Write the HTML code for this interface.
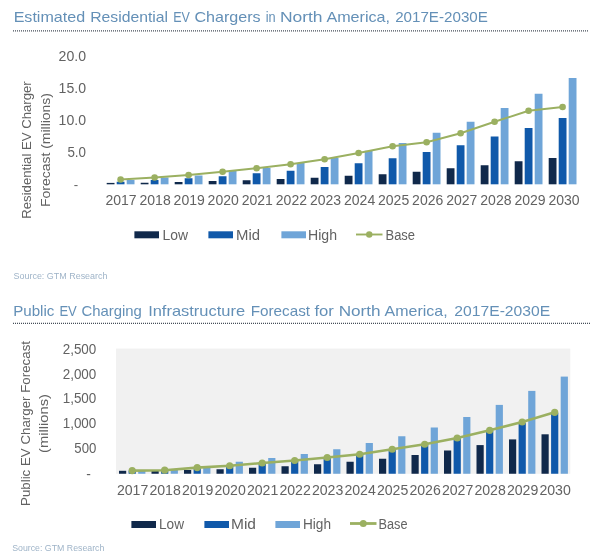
<!DOCTYPE html><html><head><meta charset="utf-8"><title>EV Charger Forecasts</title>
<style>html,body{margin:0;padding:0;background:#fff}svg{display:block}text{font-family:"Liberation Sans",sans-serif}</style></head><body>
<svg width="600" height="560" viewBox="0 0 600 560">
<rect width="600" height="560" fill="#fff"/>
<text y="21.6" font-size="14.5" fill="#6490b7"><tspan x="13.65" textLength="71.45" lengthAdjust="spacingAndGlyphs">Estimated</tspan> <tspan x="90.15" textLength="77.95" lengthAdjust="spacingAndGlyphs">Residential</tspan> <tspan x="173.15" textLength="16.70" lengthAdjust="spacingAndGlyphs">EV</tspan> <tspan x="194.40" textLength="66.20" lengthAdjust="spacingAndGlyphs">Chargers</tspan> <tspan x="265.65" textLength="9.95" lengthAdjust="spacingAndGlyphs">in</tspan> <tspan x="279.90" textLength="42.70" lengthAdjust="spacingAndGlyphs">North</tspan> <tspan x="326.40" textLength="63.70" lengthAdjust="spacingAndGlyphs">America,</tspan> <tspan x="395.15" textLength="92.75" lengthAdjust="spacingAndGlyphs">2017E-2030E</tspan></text>
<line x1="13" y1="30.8" x2="589" y2="30.8" stroke="#454d58" stroke-width="1.2" stroke-dasharray="1 1"/>
<text y="315.6" font-size="14.5" fill="#6490b7"><tspan x="13.15" textLength="41.20" lengthAdjust="spacingAndGlyphs">Public</tspan> <tspan x="59.40" textLength="17.45" lengthAdjust="spacingAndGlyphs">EV</tspan> <tspan x="81.40" textLength="60.45" lengthAdjust="spacingAndGlyphs">Charging</tspan> <tspan x="148.15" textLength="96.95" lengthAdjust="spacingAndGlyphs">Infrastructure</tspan> <tspan x="250.65" textLength="59.45" lengthAdjust="spacingAndGlyphs">Forecast</tspan> <tspan x="314.40" textLength="19.45" lengthAdjust="spacingAndGlyphs">for</tspan> <tspan x="338.65" textLength="41.95" lengthAdjust="spacingAndGlyphs">North</tspan> <tspan x="384.60" textLength="63.00" lengthAdjust="spacingAndGlyphs">America,</tspan> <tspan x="454.30" textLength="95.90" lengthAdjust="spacingAndGlyphs">2017E-2030E</tspan></text>
<line x1="13" y1="323.3" x2="590" y2="323.3" stroke="#454d58" stroke-width="1.2" stroke-dasharray="1 1"/>
<text x="13.5" y="278.8" font-size="9.5" fill="#9fb4c8" text-anchor="start" textLength="94" lengthAdjust="spacingAndGlyphs" >Source: GTM Research</text>
<text x="12.2" y="550.6" font-size="9.5" fill="#9fb4c8" text-anchor="start" textLength="92.2" lengthAdjust="spacingAndGlyphs" >Source: GTM Research</text>
<text x="86" y="61.4" font-size="13.8" fill="#626262" text-anchor="end" textLength="27.4" lengthAdjust="spacingAndGlyphs" >20.0</text>
<text x="86" y="93.2" font-size="13.8" fill="#626262" text-anchor="end" textLength="27.4" lengthAdjust="spacingAndGlyphs" >15.0</text>
<text x="86" y="125.2" font-size="13.8" fill="#626262" text-anchor="end" textLength="27.4" lengthAdjust="spacingAndGlyphs" >10.0</text>
<text x="86" y="157.4" font-size="13.8" fill="#626262" text-anchor="end" textLength="18.6" lengthAdjust="spacingAndGlyphs" >5.0</text>
<text x="76" y="189" font-size="13.2" fill="#626262" text-anchor="middle" >-</text>
<text transform="translate(31,150) rotate(-90)" font-size="13.2" fill="#626262" text-anchor="middle" textLength="137.5" lengthAdjust="spacingAndGlyphs">Residential EV Charger</text>
<text transform="translate(49.8,150) rotate(-90)" font-size="13.2" fill="#626262" text-anchor="middle" textLength="114" lengthAdjust="spacingAndGlyphs">Forecast (millions)</text>
<rect x="106.70" y="182.90" width="7.8" height="1.40" fill="#10294b"/>
<rect x="116.70" y="181.75" width="7.8" height="2.55" fill="#1059aa"/>
<rect x="126.70" y="180.00" width="7.8" height="4.30" fill="#6fa5d8"/>
<text x="121.0" y="204.6" font-size="14.5" fill="#626262" text-anchor="middle" textLength="31.2" lengthAdjust="spacingAndGlyphs" >2017</text>
<rect x="140.70" y="182.75" width="7.8" height="1.55" fill="#10294b"/>
<rect x="150.70" y="180.00" width="7.8" height="4.30" fill="#1059aa"/>
<rect x="160.70" y="177.50" width="7.8" height="6.80" fill="#6fa5d8"/>
<text x="155.1" y="204.6" font-size="14.5" fill="#626262" text-anchor="middle" textLength="31.2" lengthAdjust="spacingAndGlyphs" >2018</text>
<rect x="174.70" y="182.00" width="7.8" height="2.30" fill="#10294b"/>
<rect x="184.70" y="178.25" width="7.8" height="6.05" fill="#1059aa"/>
<rect x="194.70" y="175.50" width="7.8" height="8.80" fill="#6fa5d8"/>
<text x="189.2" y="204.6" font-size="14.5" fill="#626262" text-anchor="middle" textLength="31.2" lengthAdjust="spacingAndGlyphs" >2019</text>
<rect x="208.70" y="181.00" width="7.8" height="3.30" fill="#10294b"/>
<rect x="218.70" y="176.25" width="7.8" height="8.05" fill="#1059aa"/>
<rect x="228.70" y="170.75" width="7.8" height="13.55" fill="#6fa5d8"/>
<text x="223.2" y="204.6" font-size="14.5" fill="#626262" text-anchor="middle" textLength="31.2" lengthAdjust="spacingAndGlyphs" >2020</text>
<rect x="242.70" y="180.25" width="7.8" height="4.05" fill="#10294b"/>
<rect x="252.70" y="173.25" width="7.8" height="11.05" fill="#1059aa"/>
<rect x="262.70" y="168.00" width="7.8" height="16.30" fill="#6fa5d8"/>
<text x="257.3" y="204.6" font-size="14.5" fill="#626262" text-anchor="middle" textLength="31.2" lengthAdjust="spacingAndGlyphs" >2021</text>
<rect x="276.70" y="179.00" width="7.8" height="5.30" fill="#10294b"/>
<rect x="286.70" y="170.75" width="7.8" height="13.55" fill="#1059aa"/>
<rect x="296.70" y="163.00" width="7.8" height="21.30" fill="#6fa5d8"/>
<text x="291.4" y="204.6" font-size="14.5" fill="#626262" text-anchor="middle" textLength="31.2" lengthAdjust="spacingAndGlyphs" >2022</text>
<rect x="310.70" y="177.75" width="7.8" height="6.55" fill="#10294b"/>
<rect x="320.70" y="167.00" width="7.8" height="17.30" fill="#1059aa"/>
<rect x="330.70" y="158.00" width="7.8" height="26.30" fill="#6fa5d8"/>
<text x="325.5" y="204.6" font-size="14.5" fill="#626262" text-anchor="middle" textLength="31.2" lengthAdjust="spacingAndGlyphs" >2023</text>
<rect x="344.70" y="175.75" width="7.8" height="8.55" fill="#10294b"/>
<rect x="354.70" y="163.25" width="7.8" height="21.05" fill="#1059aa"/>
<rect x="364.70" y="150.75" width="7.8" height="33.55" fill="#6fa5d8"/>
<text x="359.6" y="204.6" font-size="14.5" fill="#626262" text-anchor="middle" textLength="31.2" lengthAdjust="spacingAndGlyphs" >2024</text>
<rect x="378.70" y="174.25" width="7.8" height="10.05" fill="#10294b"/>
<rect x="388.70" y="158.25" width="7.8" height="26.05" fill="#1059aa"/>
<rect x="398.70" y="143.00" width="7.8" height="41.30" fill="#6fa5d8"/>
<text x="393.6" y="204.6" font-size="14.5" fill="#626262" text-anchor="middle" textLength="31.2" lengthAdjust="spacingAndGlyphs" >2025</text>
<rect x="412.70" y="171.75" width="7.8" height="12.55" fill="#10294b"/>
<rect x="422.70" y="152.00" width="7.8" height="32.30" fill="#1059aa"/>
<rect x="432.70" y="132.75" width="7.8" height="51.55" fill="#6fa5d8"/>
<text x="427.7" y="204.6" font-size="14.5" fill="#626262" text-anchor="middle" textLength="31.2" lengthAdjust="spacingAndGlyphs" >2026</text>
<rect x="446.70" y="168.25" width="7.8" height="16.05" fill="#10294b"/>
<rect x="456.70" y="145.25" width="7.8" height="39.05" fill="#1059aa"/>
<rect x="466.70" y="121.75" width="7.8" height="62.55" fill="#6fa5d8"/>
<text x="461.8" y="204.6" font-size="14.5" fill="#626262" text-anchor="middle" textLength="31.2" lengthAdjust="spacingAndGlyphs" >2027</text>
<rect x="480.70" y="165.25" width="7.8" height="19.05" fill="#10294b"/>
<rect x="490.70" y="136.50" width="7.8" height="47.80" fill="#1059aa"/>
<rect x="500.70" y="108.00" width="7.8" height="76.30" fill="#6fa5d8"/>
<text x="495.9" y="204.6" font-size="14.5" fill="#626262" text-anchor="middle" textLength="31.2" lengthAdjust="spacingAndGlyphs" >2028</text>
<rect x="514.70" y="161.25" width="7.8" height="23.05" fill="#10294b"/>
<rect x="524.70" y="128.00" width="7.8" height="56.30" fill="#1059aa"/>
<rect x="534.70" y="93.75" width="7.8" height="90.55" fill="#6fa5d8"/>
<text x="530.0" y="204.6" font-size="14.5" fill="#626262" text-anchor="middle" textLength="31.2" lengthAdjust="spacingAndGlyphs" >2029</text>
<rect x="548.70" y="158.00" width="7.8" height="26.30" fill="#10294b"/>
<rect x="558.70" y="118.00" width="7.8" height="66.30" fill="#1059aa"/>
<rect x="568.70" y="78.00" width="7.8" height="106.30" fill="#6fa5d8"/>
<text x="564.0" y="204.6" font-size="14.5" fill="#626262" text-anchor="middle" textLength="31.2" lengthAdjust="spacingAndGlyphs" >2030</text>
<polyline points="120.6,179.50 154.6,177.50 188.6,175.00 222.6,171.75 256.6,168.25 290.6,164.25 324.6,159.25 358.6,153.00 392.6,146.25 426.6,142.25 460.6,133.25 494.6,121.75 528.6,110.75 562.6,107.00" fill="none" stroke="#9bb061" stroke-width="1.9" stroke-linejoin="round"/>
<circle cx="120.6" cy="179.50" r="3.3" fill="#9bb061"/>
<circle cx="154.6" cy="177.50" r="3.3" fill="#9bb061"/>
<circle cx="188.6" cy="175.00" r="3.3" fill="#9bb061"/>
<circle cx="222.6" cy="171.75" r="3.3" fill="#9bb061"/>
<circle cx="256.6" cy="168.25" r="3.3" fill="#9bb061"/>
<circle cx="290.6" cy="164.25" r="3.3" fill="#9bb061"/>
<circle cx="324.6" cy="159.25" r="3.3" fill="#9bb061"/>
<circle cx="358.6" cy="153.00" r="3.3" fill="#9bb061"/>
<circle cx="392.6" cy="146.25" r="3.3" fill="#9bb061"/>
<circle cx="426.6" cy="142.25" r="3.3" fill="#9bb061"/>
<circle cx="460.6" cy="133.25" r="3.3" fill="#9bb061"/>
<circle cx="494.6" cy="121.75" r="3.3" fill="#9bb061"/>
<circle cx="528.6" cy="110.75" r="3.3" fill="#9bb061"/>
<circle cx="562.6" cy="107.00" r="3.3" fill="#9bb061"/>
<rect x="134.4" y="231.3" width="24.6" height="7" fill="#10294b"/>
<rect x="208.4" y="231.3" width="24.6" height="7" fill="#1059aa"/>
<rect x="281.4" y="231.3" width="24.6" height="7" fill="#6fa5d8"/>
<line x1="356" y1="234.5" x2="382.5" y2="234.5" stroke="#9bb061" stroke-width="1.9"/>
<circle cx="369.25" cy="234.5" r="3.2" fill="#9bb061"/>
<text x="162.5" y="239.8" font-size="14" fill="#626262" text-anchor="start" textLength="25.5" lengthAdjust="spacingAndGlyphs" >Low</text>
<text x="236" y="239.8" font-size="14" fill="#626262" text-anchor="start" textLength="24" lengthAdjust="spacingAndGlyphs" >Mid</text>
<text x="308" y="239.8" font-size="14" fill="#626262" text-anchor="start" textLength="29" lengthAdjust="spacingAndGlyphs" >High</text>
<text x="385.5" y="239.8" font-size="14" fill="#626262" text-anchor="start" textLength="29.5" lengthAdjust="spacingAndGlyphs" >Base</text>
<rect x="116" y="348.6" width="454.3" height="125.2" fill="#f1f1f1"/>
<text x="96.3" y="354.09999999999997" font-size="13.8" fill="#626262" text-anchor="end" textLength="33.6" lengthAdjust="spacingAndGlyphs" >2,500</text>
<text x="96.3" y="378.59999999999997" font-size="13.8" fill="#626262" text-anchor="end" textLength="33.6" lengthAdjust="spacingAndGlyphs" >2,000</text>
<text x="96.3" y="403.4" font-size="13.8" fill="#626262" text-anchor="end" textLength="33.6" lengthAdjust="spacingAndGlyphs" >1,500</text>
<text x="96.3" y="428.29999999999995" font-size="13.8" fill="#626262" text-anchor="end" textLength="33.6" lengthAdjust="spacingAndGlyphs" >1,000</text>
<text x="96.3" y="453.2" font-size="13.8" fill="#626262" text-anchor="end" textLength="22" lengthAdjust="spacingAndGlyphs" >500</text>
<text x="88.5" y="479.3" font-size="13.8" fill="#626262" text-anchor="middle" >-</text>
<text transform="translate(30,423.5) rotate(-90)" font-size="13.2" fill="#626262" text-anchor="middle" textLength="165" lengthAdjust="spacingAndGlyphs">Public EV Charger Forecast</text>
<text transform="translate(48.3,423.5) rotate(-90)" font-size="13.2" fill="#626262" text-anchor="middle" textLength="59" lengthAdjust="spacingAndGlyphs">(millions)</text>
<rect x="119.00" y="470.80" width="7.2" height="2.95" fill="#10294b"/>
<rect x="128.60" y="470.60" width="7.2" height="3.15" fill="#1059aa"/>
<rect x="138.20" y="470.00" width="7.2" height="3.75" fill="#6fa5d8"/>
<text x="132.6" y="494.6" font-size="14.8" fill="#626262" text-anchor="middle" textLength="31.4" lengthAdjust="spacingAndGlyphs" >2017</text>
<rect x="151.50" y="470.40" width="7.2" height="3.35" fill="#10294b"/>
<rect x="161.10" y="469.60" width="7.2" height="4.15" fill="#1059aa"/>
<rect x="170.70" y="469.40" width="7.2" height="4.35" fill="#6fa5d8"/>
<text x="165.1" y="494.6" font-size="14.8" fill="#626262" text-anchor="middle" textLength="31.4" lengthAdjust="spacingAndGlyphs" >2018</text>
<rect x="184.00" y="470.00" width="7.2" height="3.75" fill="#10294b"/>
<rect x="193.60" y="468.00" width="7.2" height="5.75" fill="#1059aa"/>
<rect x="203.20" y="466.00" width="7.2" height="7.75" fill="#6fa5d8"/>
<text x="197.6" y="494.6" font-size="14.8" fill="#626262" text-anchor="middle" textLength="31.4" lengthAdjust="spacingAndGlyphs" >2019</text>
<rect x="216.50" y="469.25" width="7.2" height="4.50" fill="#10294b"/>
<rect x="226.10" y="466.00" width="7.2" height="7.75" fill="#1059aa"/>
<rect x="235.70" y="461.75" width="7.2" height="12.00" fill="#6fa5d8"/>
<text x="230.1" y="494.6" font-size="14.8" fill="#626262" text-anchor="middle" textLength="31.4" lengthAdjust="spacingAndGlyphs" >2020</text>
<rect x="249.00" y="467.75" width="7.2" height="6.00" fill="#10294b"/>
<rect x="258.60" y="463.30" width="7.2" height="10.45" fill="#1059aa"/>
<rect x="268.20" y="458.00" width="7.2" height="15.75" fill="#6fa5d8"/>
<text x="262.6" y="494.6" font-size="14.8" fill="#626262" text-anchor="middle" textLength="31.4" lengthAdjust="spacingAndGlyphs" >2021</text>
<rect x="281.50" y="466.25" width="7.2" height="7.50" fill="#10294b"/>
<rect x="291.10" y="461.00" width="7.2" height="12.75" fill="#1059aa"/>
<rect x="300.70" y="454.00" width="7.2" height="19.75" fill="#6fa5d8"/>
<text x="295.1" y="494.6" font-size="14.8" fill="#626262" text-anchor="middle" textLength="31.4" lengthAdjust="spacingAndGlyphs" >2022</text>
<rect x="314.00" y="464.25" width="7.2" height="9.50" fill="#10294b"/>
<rect x="323.60" y="457.80" width="7.2" height="15.95" fill="#1059aa"/>
<rect x="333.20" y="449.25" width="7.2" height="24.50" fill="#6fa5d8"/>
<text x="327.6" y="494.6" font-size="14.8" fill="#626262" text-anchor="middle" textLength="31.4" lengthAdjust="spacingAndGlyphs" >2023</text>
<rect x="346.50" y="461.75" width="7.2" height="12.00" fill="#10294b"/>
<rect x="356.10" y="454.50" width="7.2" height="19.25" fill="#1059aa"/>
<rect x="365.70" y="443.00" width="7.2" height="30.75" fill="#6fa5d8"/>
<text x="360.1" y="494.6" font-size="14.8" fill="#626262" text-anchor="middle" textLength="31.4" lengthAdjust="spacingAndGlyphs" >2024</text>
<rect x="379.00" y="458.75" width="7.2" height="15.00" fill="#10294b"/>
<rect x="388.60" y="449.50" width="7.2" height="24.25" fill="#1059aa"/>
<rect x="398.20" y="436.25" width="7.2" height="37.50" fill="#6fa5d8"/>
<text x="392.6" y="494.6" font-size="14.8" fill="#626262" text-anchor="middle" textLength="31.4" lengthAdjust="spacingAndGlyphs" >2025</text>
<rect x="411.50" y="455.00" width="7.2" height="18.75" fill="#10294b"/>
<rect x="421.10" y="444.50" width="7.2" height="29.25" fill="#1059aa"/>
<rect x="430.70" y="427.50" width="7.2" height="46.25" fill="#6fa5d8"/>
<text x="425.1" y="494.6" font-size="14.8" fill="#626262" text-anchor="middle" textLength="31.4" lengthAdjust="spacingAndGlyphs" >2026</text>
<rect x="444.00" y="450.50" width="7.2" height="23.25" fill="#10294b"/>
<rect x="453.60" y="438.30" width="7.2" height="35.45" fill="#1059aa"/>
<rect x="463.20" y="417.00" width="7.2" height="56.75" fill="#6fa5d8"/>
<text x="457.6" y="494.6" font-size="14.8" fill="#626262" text-anchor="middle" textLength="31.4" lengthAdjust="spacingAndGlyphs" >2027</text>
<rect x="476.50" y="445.10" width="7.2" height="28.65" fill="#10294b"/>
<rect x="486.10" y="430.90" width="7.2" height="42.85" fill="#1059aa"/>
<rect x="495.70" y="404.90" width="7.2" height="68.85" fill="#6fa5d8"/>
<text x="490.1" y="494.6" font-size="14.8" fill="#626262" text-anchor="middle" textLength="31.4" lengthAdjust="spacingAndGlyphs" >2028</text>
<rect x="509.00" y="439.40" width="7.2" height="34.35" fill="#10294b"/>
<rect x="518.60" y="422.90" width="7.2" height="50.85" fill="#1059aa"/>
<rect x="528.20" y="390.90" width="7.2" height="82.85" fill="#6fa5d8"/>
<text x="522.6" y="494.6" font-size="14.8" fill="#626262" text-anchor="middle" textLength="31.4" lengthAdjust="spacingAndGlyphs" >2029</text>
<rect x="541.50" y="434.30" width="7.2" height="39.45" fill="#10294b"/>
<rect x="551.10" y="412.90" width="7.2" height="60.85" fill="#1059aa"/>
<rect x="560.70" y="376.60" width="7.2" height="97.15" fill="#6fa5d8"/>
<text x="555.1" y="494.6" font-size="14.8" fill="#626262" text-anchor="middle" textLength="31.4" lengthAdjust="spacingAndGlyphs" >2030</text>
<polyline points="132.2,470.60 164.7,470.20 197.2,467.60 229.7,465.75 262.2,463.00 294.7,460.50 327.2,457.50 359.7,454.25 392.2,449.25 424.7,444.25 457.2,438.00 489.7,430.30 522.2,422.00 554.7,412.30" fill="none" stroke="#9bb061" stroke-width="2.6" stroke-linejoin="round"/>
<circle cx="132.2" cy="470.60" r="3.6" fill="#9bb061"/>
<circle cx="164.7" cy="470.20" r="3.6" fill="#9bb061"/>
<circle cx="197.2" cy="467.60" r="3.6" fill="#9bb061"/>
<circle cx="229.7" cy="465.75" r="3.6" fill="#9bb061"/>
<circle cx="262.2" cy="463.00" r="3.6" fill="#9bb061"/>
<circle cx="294.7" cy="460.50" r="3.6" fill="#9bb061"/>
<circle cx="327.2" cy="457.50" r="3.6" fill="#9bb061"/>
<circle cx="359.7" cy="454.25" r="3.6" fill="#9bb061"/>
<circle cx="392.2" cy="449.25" r="3.6" fill="#9bb061"/>
<circle cx="424.7" cy="444.25" r="3.6" fill="#9bb061"/>
<circle cx="457.2" cy="438.00" r="3.6" fill="#9bb061"/>
<circle cx="489.7" cy="430.30" r="3.6" fill="#9bb061"/>
<circle cx="522.2" cy="422.00" r="3.6" fill="#9bb061"/>
<circle cx="554.7" cy="412.30" r="3.6" fill="#9bb061"/>
<rect x="131.4" y="521.0" width="24.6" height="7" fill="#10294b"/>
<rect x="204.4" y="521.0" width="24.6" height="7" fill="#1059aa"/>
<rect x="275.4" y="521.0" width="24.6" height="7" fill="#6fa5d8"/>
<line x1="350" y1="523.5" x2="376.5" y2="523.5" stroke="#9bb061" stroke-width="2.8"/>
<circle cx="363.25" cy="523.5" r="3.5" fill="#9bb061"/>
<text x="159" y="529.0" font-size="14" fill="#626262" text-anchor="start" textLength="25" lengthAdjust="spacingAndGlyphs" >Low</text>
<text x="231" y="529.0" font-size="14" fill="#626262" text-anchor="start" textLength="25" lengthAdjust="spacingAndGlyphs" >Mid</text>
<text x="303" y="529.0" font-size="14" fill="#626262" text-anchor="start" textLength="28" lengthAdjust="spacingAndGlyphs" >High</text>
<text x="378.5" y="529.0" font-size="14" fill="#626262" text-anchor="start" textLength="29" lengthAdjust="spacingAndGlyphs" >Base</text>
</svg></body></html>
